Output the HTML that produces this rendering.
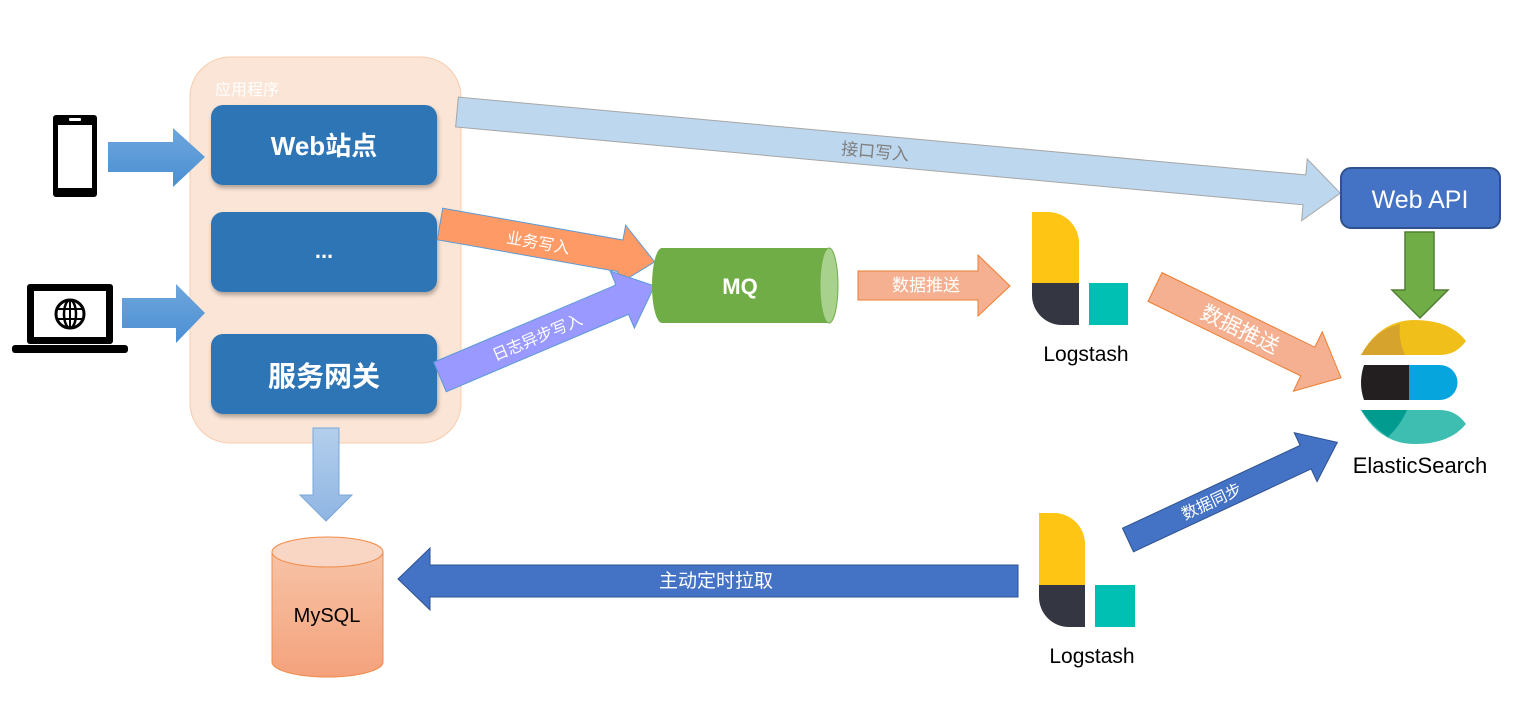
<!DOCTYPE html>
<html><head><meta charset="utf-8"><style>
html,body{margin:0;padding:0;background:#fff}
svg{display:block}
text{font-family:"Liberation Sans","Noto Sans CJK SC",sans-serif}
</style></head><body>
<svg width="1529" height="705" viewBox="0 0 1529 705" xmlns="http://www.w3.org/2000/svg">
<defs>
<linearGradient id="bl" x1="0" y1="0" x2="0" y2="1"><stop offset="0" stop-color="#6fa6dc"/><stop offset="1" stop-color="#4a8fd4"/></linearGradient>
<linearGradient id="lb" x1="0" y1="0" x2="0" y2="1"><stop offset="0" stop-color="#b4cfec"/><stop offset="1" stop-color="#8fb5e3"/></linearGradient>
<linearGradient id="my" x1="0" y1="0" x2="0" y2="1"><stop offset="0" stop-color="#f7c3a6"/><stop offset="1" stop-color="#f4a27c"/></linearGradient>
<filter id="sh" x="-10%" y="-10%" width="130%" height="140%"><feDropShadow dx="1" dy="3" stdDeviation="2" flood-color="#000" flood-opacity="0.3"/></filter>
</defs>

<!-- app container -->
<rect x="190" y="57" width="271" height="386" rx="40" fill="#fbe5d6" stroke="#f8cbad"/>
<text x="215" y="95" font-size="16" fill="#fff">应用程序</text>
<g filter="url(#sh)">
<rect x="211" y="105" width="226" height="80" rx="12" fill="#2e75b6"/>
<rect x="211" y="212" width="226" height="80" rx="12" fill="#2e75b6"/>
<rect x="211" y="334" width="226" height="80" rx="12" fill="#2e75b6"/>
</g>
<text x="324" y="155" font-size="26" font-weight="bold" fill="#fff" text-anchor="middle">Web站点</text>
<text x="324" y="258" font-size="22" font-weight="bold" fill="#fff" text-anchor="middle">...</text>
<text x="324" y="386" font-size="28" font-weight="bold" fill="#fff" text-anchor="middle">服务网关</text>

<!-- phone -->
<rect x="53" y="115" width="44" height="82" rx="3" fill="#000"/>
<rect x="58" y="125" width="34" height="63" fill="#fff"/>
<rect x="69" y="118" width="12" height="3" rx="1" fill="#fff"/>
<!-- laptop -->
<rect x="27" y="284" width="86" height="60" rx="3" fill="#000"/>
<rect x="34" y="291" width="72" height="46" fill="#fff"/>
<rect x="12" y="345" width="116" height="8" rx="3" fill="#000"/>
<circle cx="70" cy="314" r="14" fill="none" stroke="#000" stroke-width="3"/>
<ellipse cx="70" cy="314" rx="6" ry="14" fill="none" stroke="#000" stroke-width="2.5"/>
<line x1="56" y1="309" x2="84" y2="309" stroke="#000" stroke-width="2"/>
<line x1="56" y1="319" x2="84" y2="319" stroke="#000" stroke-width="2"/>
<line x1="70" y1="300" x2="70" y2="328" stroke="#000" stroke-width="2"/>

<!-- phone/laptop arrows -->
<polygon points="108,142 173,142 173,128 205,157 173,187 173,172 108,172" fill="url(#bl)"/>
<polygon points="122,298 176,298 176,284 205,313 176,343 176,328 122,328" fill="url(#bl)"/>

<!-- 接口写入 -->
<g transform="translate(457,112) rotate(5.25)">
<polygon points="0,-15 851,-15 851,-31 887,0 851,31 851,15 0,15" fill="#bdd7ee" stroke="#a6a6a6" stroke-width="1"/>
<text x="420" y="7" font-size="17" fill="#7f7f7f" text-anchor="middle">接口写入</text>
</g>

<!-- 业务写入 -->
<g transform="translate(440,224) rotate(10)">
<polygon points="0,-16 183,-16 183,-31 218,0 183,31 183,16 0,16" fill="#fe9a66" stroke="#5b9bd5" stroke-width="1"/>
<text x="100" y="7" font-size="16" fill="#fff" text-anchor="middle">业务写入</text>
</g>
<!-- 日志异步写入 -->
<g transform="translate(440,377) rotate(-23)">
<polygon points="0,-16 198,-16 198,-31 233,0 198,31 198,16 0,16" fill="#9999ff" stroke="#5b9bd5" stroke-width="1"/>
<text x="105" y="7" font-size="16" fill="#fff" text-anchor="middle">日志异步写入</text>
</g>

<!-- MQ -->
<path d="M662,248 L829,248 A9,37.5 0 0 1 829,323 L662,323 A10,37.5 0 0 1 662,248 Z" fill="#70ad47"/>
<ellipse cx="829" cy="285.5" rx="9" ry="37.5" fill="#a9d18e" stroke="#70ad47"/>
<text x="740" y="294" font-size="22" font-weight="bold" fill="#fff" text-anchor="middle">MQ</text>

<!-- 数据推送 1 -->
<polygon points="858,271 978,271 978,255 1010,286 978,316 978,300 858,300" fill="#f4b090" stroke="#ed7d31" stroke-width="1"/>
<text x="926" y="291" font-size="17" fill="#fff" text-anchor="middle">数据推送</text>

<!-- Logstash 1 -->
<path d="M1032,212 L1048,212 A31,31 0 0 1 1079,243 L1079,283 L1032,283 Z" fill="#fec514"/>
<path d="M1032,283 L1079,283 L1079,325 L1062,325 A30,30 0 0 1 1032,295 Z" fill="#343741"/>
<rect x="1089" y="283" width="39" height="42" fill="#00bfb3"/>
<text x="1086" y="361" font-size="21" fill="#000" text-anchor="middle">Logstash</text>

<!-- 数据推送 2 -->
<g transform="translate(1155,287) rotate(26)">
<polygon points="0,-16 170,-16 170,-33 207,0 170,33 170,16 0,16" fill="#f4b090" stroke="#ed7d31" stroke-width="1"/>
<text x="95" y="8" font-size="21" fill="#fff" text-anchor="middle">数据推送</text>
</g>

<!-- Web API -->
<rect x="1341" y="168" width="159" height="60" rx="10" fill="#4472c4" stroke="#2f528f" stroke-width="2"/>
<text x="1420" y="208" font-size="25" fill="#fff" text-anchor="middle">Web API</text>
<polygon points="1405,232 1434,232 1434,290 1448,290 1420,318 1392,290 1405,290" fill="#70ad47" stroke="#507e32" stroke-width="1.5"/>

<!-- ES logo -->
<path d="M1361,355 Q1380,320 1415,320 Q1450,320 1466,341 Q1456,355 1440,355 Z" fill="#f0bf1a"/>
<path d="M1361,355 Q1375,330 1400,324 Q1398,340 1405,355 Z" fill="#d6a42d"/>
<path d="M1364,365 L1409,365 L1409,400 L1364,400 Q1358,383 1364,365 Z" fill="#231f20"/>
<path d="M1409,365 L1440,365 A17.5,17.5 0 0 1 1440,400 L1409,400 Z" fill="#07a5de"/>
<path d="M1361,410 L1440,410 Q1456,410 1466,424 Q1450,444 1415,444 Q1380,444 1361,410 Z" fill="#3ebeb0"/>
<path d="M1361,410 L1407,410 Q1400,426 1388,437 Q1372,426 1361,410 Z" fill="#019b8f"/>
<text x="1420" y="473" font-size="22" fill="#000" text-anchor="middle">ElasticSearch</text>

<!-- 数据同步 -->
<g transform="translate(1128,540) rotate(-25)">
<polygon points="0,-13 196,-13 196,-27 231,0 196,27 196,13 0,13" fill="#4472c4" stroke="#2f528f" stroke-width="1"/>
<text x="92" y="6" font-size="16" fill="#fff" text-anchor="middle">数据同步</text>
</g>

<!-- Logstash 2 -->
<path d="M1039,513 L1054,513 A31,31 0 0 1 1085,544 L1085,585 L1039,585 Z" fill="#fec514"/>
<path d="M1039,585 L1085,585 L1085,627 L1069,627 A30,30 0 0 1 1039,597 Z" fill="#343741"/>
<rect x="1095" y="585" width="40" height="42" fill="#00bfb3"/>
<text x="1092" y="663" font-size="21" fill="#000" text-anchor="middle">Logstash</text>

<!-- 主动定时拉取 -->
<polygon points="1018,565 430,565 430,548 398,579 430,610 430,597 1018,597" fill="#4472c4" stroke="#2f528f" stroke-width="1"/>
<text x="716" y="587" font-size="19" fill="#fff" text-anchor="middle">主动定时拉取</text>

<!-- light blue down arrow -->
<polygon points="313,428 339,428 339,495 352,495 326,521 300,495 313,495" fill="url(#lb)" stroke="#7aa7da" stroke-width="1"/>

<!-- MySQL -->
<path d="M272,552 L272,662 A55.5,15 0 0 0 383,662 L383,552 Z" fill="url(#my)" stroke="#f08c4a" stroke-width="1"/>
<ellipse cx="327.5" cy="552" rx="55.5" ry="15" fill="#f9d5c3" stroke="#f08c4a" stroke-width="1"/>
<text x="327" y="622" font-size="20" fill="#000" text-anchor="middle">MySQL</text>
</svg>
</body></html>
